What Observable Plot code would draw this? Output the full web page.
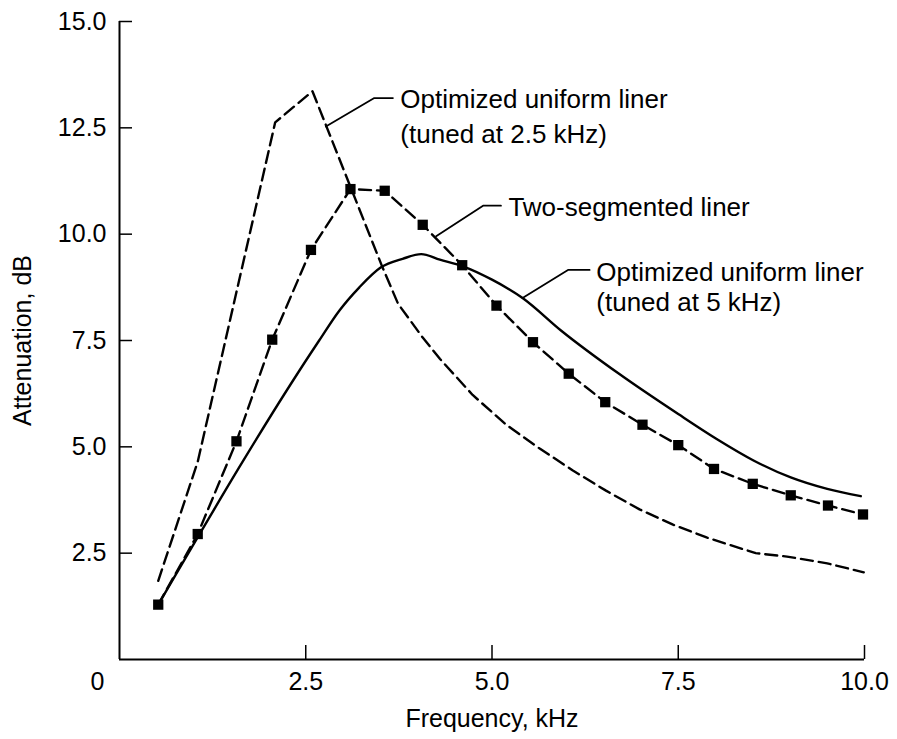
<!DOCTYPE html>
<html>
<head>
<meta charset="utf-8">
<script src="https://cdn.jsdelivr.net/npm/d3@7"></script>
<script src="https://cdn.jsdelivr.net/npm/@observablehq/plot@0.6"></script>
<style>
  html, body { margin: 0; padding: 0; background: #fff; }
  #chart { width: 897px; height: 739px; }
</style>
</head>
<body>
<div id="chart"></div>
<script>
// Two-segmented liner (squares, dashed)
const freqTwoSeg = [0.52, 1.05, 1.57, 2.05, 2.57, 3.10, 3.56, 4.07, 4.60, 5.06, 5.55, 6.03, 6.52, 7.02, 7.50, 7.98, 8.50, 9.01, 9.51, 9.98];
const attenTwoSeg = [1.29, 2.95, 5.13, 7.52, 9.63, 11.06, 11.02, 10.22, 9.27, 8.32, 7.46, 6.72, 6.05, 5.52, 5.04, 4.48, 4.13, 3.86, 3.62, 3.41];

// Optimized uniform liner tuned at 2.5 kHz (dashed)
const freq25 = [0.52, 1.05, 2.09, 2.59, 3.53, 3.74, 4.07, 4.30, 4.74, 5.19, 5.64, 6.08, 6.53, 6.98, 7.43, 7.88, 8.54, 8.96, 9.50, 9.99];
const atten25 = [1.85, 4.65, 12.63, 13.36, 9.22, 8.36, 7.57, 7.07, 6.22, 5.52, 4.96, 4.45, 3.97, 3.53, 3.17, 2.87, 2.50, 2.42, 2.26, 2.05];

// Optimized uniform liner tuned at 5 kHz (solid)
const freq5 = [0.52, 2.68, 2.95, 3.22, 3.51, 3.80, 4.05, 4.30, 4.60, 5.00, 5.41, 5.93, 6.71, 7.50, 8.01, 8.51, 9.01, 9.50, 9.95];
const atten5 = [1.29, 7.50, 8.20, 8.75, 9.22, 9.42, 9.53, 9.40, 9.25, 8.93, 8.50, 7.73, 6.71, 5.77, 5.19, 4.68, 4.28, 4.01, 3.84];

// Tick values
const xTicks = [2.5, 5, 7.5, 10];
const yTicks = [2.5, 5, 7.5, 10, 12.5, 15];
const originTick = [0];

// Annotations
const annoText = ["Optimized uniform liner", "(tuned at 2.5 kHz)", "Two-segmented liner", "Optimized uniform liner", "(tuned at 5 kHz)"];
const annoX = [3.77, 3.77, 5.22, 6.40, 6.40];
const annoY = [13.17, 12.35, 10.63, 9.10, 8.38];

// Leader lines (label -> curve)
const leaderId = ["a", "a", "a", "b", "b", "b", "c", "c", "c"];
const leaderX = [2.77, 3.42, 3.67, 4.25, 4.88, 5.12, 5.41, 6.02, 6.31];
const leaderY = [12.53, 13.20, 13.20, 9.95, 10.67, 10.67, 8.50, 9.16, 9.16];

const toRows = (xs, ys) => xs.map((x, i) => ({x, y: ys[i]}));
const twoSeg = toRows(freqTwoSeg, attenTwoSeg);
const tuned25 = toRows(freq25, atten25);
const tuned5 = toRows(freq5, atten5);
const annos = annoText.map((t, i) => ({t, x: annoX[i], y: annoY[i]}));
const leaders = leaderX.map((x, i) => ({id: leaderId[i], x, y: leaderY[i]}));

const W = 897, H = 739;
const mT = 21, mR = 33, mB = 80, mL = 119;
const frameW = W - mL - mR, frameH = H - mT - mB;
const FONT = "'Liberation Sans', Arial, Helvetica, sans-serif";

const chart = Plot.plot({
  width: W,
  height: H,
  marginTop: mT,
  marginRight: mR,
  marginBottom: mB,
  marginLeft: mL,
  x: {domain: [0, 10], axis: null},
  y: {domain: [0, 15], axis: null},
  style: {fontFamily: FONT, background: "#fff", color: "#000", overflow: "visible"},
  marks: [
    // axis lines
    Plot.ruleY([0], {stroke: "#000", strokeWidth: 2}),
    Plot.ruleX([0], {stroke: "#000", strokeWidth: 2}),
    // inward tick marks
    Plot.ruleX(xTicks, {x: d => d, insetTop: frameH - 14, stroke: "#000", strokeWidth: 1.5}),
    Plot.ruleY(yTicks, {y: d => d, insetRight: frameW - 13, stroke: "#000", strokeWidth: 1.5}),
    // tick labels
    Plot.text(xTicks, {x: d => d, frameAnchor: "bottom", dy: 22, lineAnchor: "middle", textAnchor: "middle", text: d => d.toFixed(1), fontSize: 25, fill: "#000"}),
    Plot.text(originTick, {x: d => d, frameAnchor: "bottom", dx: -22, dy: 22, lineAnchor: "middle", textAnchor: "middle", text: d => String(d), fontSize: 25, fill: "#000"}),
    Plot.text(yTicks, {y: d => d, frameAnchor: "left", dx: -13, textAnchor: "end", lineAnchor: "middle", text: d => d.toFixed(1), fontSize: 25, fill: "#000"}),
    // axis titles
    Plot.text(["Frequency, kHz"], {frameAnchor: "bottom", dy: 59, lineAnchor: "middle", textAnchor: "middle", text: d => d, fontSize: 25, fill: "#000"}),
    Plot.text(["Attenuation, dB"], {frameAnchor: "left", dx: -97, rotate: -90, lineAnchor: "middle", textAnchor: "middle", text: d => d, fontSize: 25, fill: "#000"}),
    // curves
    Plot.line(tuned25, {x: "x", y: "y", stroke: "#000", strokeWidth: 2.4, strokeDasharray: "12,6"}),
    Plot.line(tuned5, {x: "x", y: "y", stroke: "#000", strokeWidth: 2.4, curve: "monotone-x"}),
    Plot.line(twoSeg, {x: "x", y: "y", stroke: "#000", strokeWidth: 2.4, strokeDasharray: "12,6"}),
    Plot.dot(twoSeg, {x: "x", y: "y", symbol: "square", r: 5.8, fill: "#000", stroke: "none"}),
    // leaders and annotations
    Plot.line(leaders, {x: "x", y: "y", z: "id", stroke: "#000", strokeWidth: 1.8}),
    Plot.text(annos, {x: "x", y: "y", text: "t", textAnchor: "start", lineAnchor: "middle", fontSize: 26, fill: "#000"})
  ]
});

document.getElementById("chart").appendChild(chart);
</script>
</body>
</html>
